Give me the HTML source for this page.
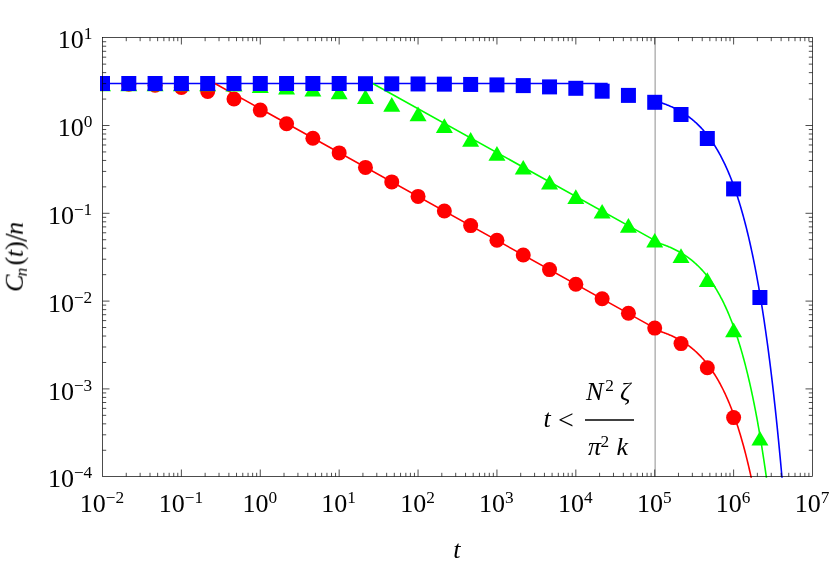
<!DOCTYPE html>
<html><head><meta charset="utf-8"><title>C_n(t)/n</title>
<style>html,body{margin:0;padding:0;background:#fff}body{width:830px;height:564px;overflow:hidden;font-family:"Liberation Serif",serif}</style></head>
<body>
<svg width="830" height="564" viewBox="0 0 830 564" style="display:block">
<rect x="0" y="0" width="830" height="564" fill="#fff"/>
<defs><clipPath id="cp"><rect x="100.0" y="30" width="720" height="447.7"/></clipPath></defs>
<line x1="655.17" y1="37.5" x2="655.17" y2="476.5" stroke="#b4b4b4" stroke-width="1.5"/>
<g clip-path="url(#cp)">
<path d="M95,83.5 L607.68,83.5" fill="none" stroke="#0000ff" stroke-width="1.6"/>
<path d="M655.17,100.95 L655.67,101.09 L656.17,101.23 L656.67,101.38 L657.17,101.52 L657.67,101.67 L658.17,101.82 L658.67,101.98 L659.17,102.13 L659.67,102.29 L660.17,102.45 L660.67,102.61 L661.17,102.77 L661.67,102.94 L662.17,103.11 L662.67,103.28 L663.17,103.46 L663.67,103.63 L664.17,103.81 L664.67,104.00 L665.17,104.18 L665.67,104.37 L666.17,104.56 L666.67,104.75 L667.17,104.95 L667.67,105.15 L668.17,105.35 L668.67,105.55 L669.17,105.76 L669.67,105.97 L670.17,106.19 L670.67,106.40 L671.17,106.62 L671.67,106.85 L672.17,107.07 L672.67,107.30 L673.17,107.54 L673.67,107.77 L674.17,108.02 L674.67,108.26 L675.17,108.51 L675.67,108.76 L676.17,109.01 L676.67,109.27 L677.17,109.53 L677.67,109.80 L678.17,110.07 L678.67,110.35 L679.17,110.62 L679.67,110.91 L680.17,111.19 L680.67,111.48 L681.17,111.78 L681.67,112.08 L682.17,112.38 L682.67,112.69 L683.17,113.00 L683.67,113.32 L684.17,113.64 L684.67,113.97 L685.17,114.30 L685.67,114.64 L686.17,114.98 L686.67,115.32 L687.17,115.67 L687.67,116.03 L688.17,116.39 L688.67,116.76 L689.17,117.13 L689.67,117.51 L690.17,117.89 L690.67,118.28 L691.17,118.68 L691.67,119.08 L692.17,119.49 L692.67,119.90 L693.17,120.32 L693.67,120.74 L694.17,121.17 L694.67,121.61 L695.17,122.06 L695.67,122.51 L696.17,122.96 L696.67,123.43 L697.17,123.90 L697.67,124.37 L698.17,124.86 L698.67,125.35 L699.17,125.85 L699.67,126.36 L700.17,126.87 L700.67,127.39 L701.17,127.92 L701.67,128.46 L702.17,129.00 L702.67,129.55 L703.17,130.11 L703.67,130.68 L704.17,131.26 L704.67,131.85 L705.17,132.44 L705.67,133.04 L706.17,133.65 L706.67,134.28 L707.17,134.91 L707.67,135.54 L708.17,136.19 L708.67,136.85 L709.17,137.52 L709.67,138.20 L710.17,138.89 L710.67,139.58 L711.17,140.29 L711.67,141.01 L712.17,141.74 L712.67,142.48 L713.17,143.23 L713.67,143.99 L714.17,144.76 L714.67,145.55 L715.17,146.34 L715.67,147.15 L716.17,147.97 L716.67,148.80 L717.17,149.65 L717.67,150.50 L718.17,151.37 L718.67,152.25 L719.17,153.15 L719.67,154.05 L720.17,154.97 L720.67,155.91 L721.17,156.86 L721.67,157.82 L722.17,158.79 L722.67,159.78 L723.17,160.79 L723.67,161.81 L724.17,162.84 L724.67,163.89 L725.17,164.96 L725.67,166.04 L726.17,167.14 L726.67,168.25 L727.17,169.38 L727.67,170.53 L728.17,171.69 L728.67,172.87 L729.17,174.07 L729.67,175.28 L730.17,176.52 L730.67,177.77 L731.17,179.04 L731.67,180.32 L732.17,181.63 L732.67,182.96 L733.17,184.30 L733.67,185.67 L734.17,187.05 L734.67,188.46 L735.17,189.89 L735.67,191.33 L736.17,192.80 L736.67,194.29 L737.17,195.81 L737.67,197.34 L738.17,198.90 L738.67,200.48 L739.17,202.08 L739.67,203.71 L740.17,205.36 L740.67,207.03 L741.17,208.73 L741.67,210.46 L742.17,212.21 L742.67,213.98 L743.17,215.79 L743.67,217.61 L744.17,219.47 L744.67,221.35 L745.17,223.26 L745.67,225.20 L746.17,227.17 L746.67,229.16 L747.17,231.19 L747.67,233.24 L748.17,235.33 L748.67,237.44 L749.17,239.59 L749.67,241.77 L750.17,243.98 L750.67,246.22 L751.17,248.50 L751.67,250.81 L752.17,253.15 L752.67,255.53 L753.17,257.94 L753.67,260.39 L754.17,262.87 L754.67,265.39 L755.17,267.95 L755.67,270.54 L756.17,273.18 L756.67,275.85 L757.17,278.56 L757.67,281.31 L758.17,284.10 L758.67,286.94 L759.17,289.81 L759.67,292.73 L760.17,295.69 L760.67,298.69 L761.17,301.74 L761.67,304.83 L762.17,307.97 L762.67,311.15 L763.17,314.38 L763.67,317.66 L764.17,320.98 L764.67,324.36 L765.17,327.78 L765.67,331.26 L766.17,334.78 L766.67,338.36 L767.17,341.99 L767.67,345.68 L768.17,349.41 L768.67,353.21 L769.17,357.05 L769.67,360.96 L770.17,364.92 L770.67,368.94 L771.17,373.02 L771.67,377.16 L772.17,381.36 L772.67,385.63 L773.17,389.95 L773.67,394.34 L774.17,398.79 L774.67,403.31 L775.17,407.90 L775.67,412.55 L776.17,417.27 L776.67,422.06 L777.17,426.92 L777.67,431.85 L778.17,436.86 L778.67,441.94 L779.17,447.09 L779.67,452.32 L780.17,457.62 L780.67,463.01 L781.17,468.47 L781.67,474.01 L782.17,479.64 L782.67,485.34" fill="none" stroke="#0000ff" stroke-width="1.6" stroke-linejoin="round"/>
<path d="M214.90,83.50 L655.17,328.42 L655.67,330.05 L656.17,330.19 L656.67,330.34 L657.17,330.48 L657.67,330.63 L658.17,330.78 L658.67,330.94 L659.17,331.09 L659.67,331.25 L660.17,331.41 L660.67,331.57 L661.17,331.74 L661.67,331.90 L662.17,332.07 L662.67,332.24 L663.17,332.42 L663.67,332.60 L664.17,332.77 L664.67,332.96 L665.17,333.14 L665.67,333.33 L666.17,333.52 L666.67,333.71 L667.17,333.91 L667.67,334.11 L668.17,334.31 L668.67,334.51 L669.17,334.72 L669.67,334.93 L670.17,335.15 L670.67,335.36 L671.17,335.59 L671.67,335.81 L672.17,336.04 L672.67,336.27 L673.17,336.50 L673.67,336.74 L674.17,336.98 L674.67,337.22 L675.17,337.47 L675.67,337.72 L676.17,337.97 L676.67,338.23 L677.17,338.50 L677.67,338.76 L678.17,339.03 L678.67,339.31 L679.17,339.58 L679.67,339.87 L680.17,340.15 L680.67,340.44 L681.17,340.74 L681.67,341.04 L682.17,341.34 L682.67,341.65 L683.17,341.96 L683.67,342.28 L684.17,342.60 L684.67,342.93 L685.17,343.26 L685.67,343.60 L686.17,343.94 L686.67,344.28 L687.17,344.64 L687.67,344.99 L688.17,345.35 L688.67,345.72 L689.17,346.09 L689.67,346.47 L690.17,346.86 L690.67,347.25 L691.17,347.64 L691.67,348.04 L692.17,348.45 L692.67,348.86 L693.17,349.28 L693.67,349.70 L694.17,350.14 L694.67,350.57 L695.17,351.02 L695.67,351.47 L696.17,351.92 L696.67,352.39 L697.17,352.86 L697.67,353.34 L698.17,353.82 L698.67,354.31 L699.17,354.81 L699.67,355.32 L700.17,355.83 L700.67,356.35 L701.17,356.88 L701.67,357.42 L702.17,357.96 L702.67,358.51 L703.17,359.07 L703.67,359.64 L704.17,360.22 L704.67,360.81 L705.17,361.40 L705.67,362.00 L706.17,362.62 L706.67,363.24 L707.17,363.87 L707.67,364.51 L708.17,365.15 L708.67,365.81 L709.17,366.48 L709.67,367.16 L710.17,367.85 L710.67,368.54 L711.17,369.25 L711.67,369.97 L712.17,370.70 L712.67,371.44 L713.17,372.19 L713.67,372.95 L714.17,373.72 L714.67,374.51 L715.17,375.30 L715.67,376.11 L716.17,376.93 L716.67,377.76 L717.17,378.61 L717.67,379.46 L718.17,380.33 L718.67,381.21 L719.17,382.11 L719.67,383.01 L720.17,383.94 L720.67,384.87 L721.17,385.82 L721.67,386.78 L722.17,387.76 L722.67,388.75 L723.17,389.75 L723.67,390.77 L724.17,391.81 L724.67,392.86 L725.17,393.92 L725.67,395.00 L726.17,396.10 L726.67,397.21 L727.17,398.34 L727.67,399.49 L728.17,400.65 L728.67,401.83 L729.17,403.03 L729.67,404.24 L730.17,405.48 L730.67,406.73 L731.17,408.00 L731.67,409.29 L732.17,410.59 L732.67,411.92 L733.17,413.26 L733.67,414.63 L734.17,416.02 L734.67,417.42 L735.17,418.85 L735.67,420.30 L736.17,421.76 L736.67,423.26 L737.17,424.77 L737.67,426.30 L738.17,427.86 L738.67,429.44 L739.17,431.04 L739.67,432.67 L740.17,434.32 L740.67,436.00 L741.17,437.69 L741.67,439.42 L742.17,441.17 L742.67,442.95 L743.17,444.75 L743.67,446.58 L744.17,448.43 L744.67,450.31 L745.17,452.22 L745.67,454.16 L746.17,456.13 L746.67,458.12 L747.17,460.15 L747.67,462.20 L748.17,464.29 L748.67,466.40 L749.17,468.55 L749.67,470.73 L750.17,472.94 L750.67,475.18 L751.17,477.46 L751.67,479.77 L752.17,482.11 L752.67,484.49" fill="none" stroke="#ff0000" stroke-width="1.6" stroke-linejoin="round"/>
<path d="M372.70,83.50 L655.17,240.64 L655.67,242.25 L656.17,242.39 L656.67,242.54 L657.17,242.68 L657.67,242.83 L658.17,242.98 L658.67,243.14 L659.17,243.29 L659.67,243.45 L660.17,243.61 L660.67,243.77 L661.17,243.94 L661.67,244.10 L662.17,244.27 L662.67,244.44 L663.17,244.62 L663.67,244.80 L664.17,244.97 L664.67,245.16 L665.17,245.34 L665.67,245.53 L666.17,245.72 L666.67,245.91 L667.17,246.11 L667.67,246.31 L668.17,246.51 L668.67,246.71 L669.17,246.92 L669.67,247.13 L670.17,247.35 L670.67,247.56 L671.17,247.79 L671.67,248.01 L672.17,248.24 L672.67,248.47 L673.17,248.70 L673.67,248.94 L674.17,249.18 L674.67,249.42 L675.17,249.67 L675.67,249.92 L676.17,250.17 L676.67,250.43 L677.17,250.70 L677.67,250.96 L678.17,251.23 L678.67,251.51 L679.17,251.78 L679.67,252.07 L680.17,252.35 L680.67,252.64 L681.17,252.94 L681.67,253.24 L682.17,253.54 L682.67,253.85 L683.17,254.16 L683.67,254.48 L684.17,254.80 L684.67,255.13 L685.17,255.46 L685.67,255.80 L686.17,256.14 L686.67,256.48 L687.17,256.84 L687.67,257.19 L688.17,257.55 L688.67,257.92 L689.17,258.29 L689.67,258.67 L690.17,259.06 L690.67,259.45 L691.17,259.84 L691.67,260.24 L692.17,260.65 L692.67,261.06 L693.17,261.48 L693.67,261.90 L694.17,262.34 L694.67,262.77 L695.17,263.22 L695.67,263.67 L696.17,264.12 L696.67,264.59 L697.17,265.06 L697.67,265.54 L698.17,266.02 L698.67,266.51 L699.17,267.01 L699.67,267.52 L700.17,268.03 L700.67,268.55 L701.17,269.08 L701.67,269.62 L702.17,270.16 L702.67,270.71 L703.17,271.27 L703.67,271.84 L704.17,272.42 L704.67,273.01 L705.17,273.60 L705.67,274.20 L706.17,274.82 L706.67,275.44 L707.17,276.07 L707.67,276.71 L708.17,277.35 L708.67,278.01 L709.17,278.68 L709.67,279.36 L710.17,280.05 L710.67,280.74 L711.17,281.45 L711.67,282.17 L712.17,282.90 L712.67,283.64 L713.17,284.39 L713.67,285.15 L714.17,285.92 L714.67,286.71 L715.17,287.50 L715.67,288.31 L716.17,289.13 L716.67,289.96 L717.17,290.81 L717.67,291.66 L718.17,292.53 L718.67,293.41 L719.17,294.31 L719.67,295.21 L720.17,296.14 L720.67,297.07 L721.17,298.02 L721.67,298.98 L722.17,299.96 L722.67,300.95 L723.17,301.95 L723.67,302.97 L724.17,304.01 L724.67,305.06 L725.17,306.12 L725.67,307.20 L726.17,308.30 L726.67,309.41 L727.17,310.54 L727.67,311.69 L728.17,312.85 L728.67,314.03 L729.17,315.23 L729.67,316.44 L730.17,317.68 L730.67,318.93 L731.17,320.20 L731.67,321.49 L732.17,322.79 L732.67,324.12 L733.17,325.46 L733.67,326.83 L734.17,328.22 L734.67,329.62 L735.17,331.05 L735.67,332.50 L736.17,333.96 L736.67,335.46 L737.17,336.97 L737.67,338.50 L738.17,340.06 L738.67,341.64 L739.17,343.24 L739.67,344.87 L740.17,346.52 L740.67,348.20 L741.17,349.89 L741.67,351.62 L742.17,353.37 L742.67,355.15 L743.17,356.95 L743.67,358.78 L744.17,360.63 L744.67,362.51 L745.17,364.42 L745.67,366.36 L746.17,368.33 L746.67,370.32 L747.17,372.35 L747.67,374.40 L748.17,376.49 L748.67,378.60 L749.17,380.75 L749.67,382.93 L750.17,385.14 L750.67,387.38 L751.17,389.66 L751.67,391.97 L752.17,394.31 L752.67,396.69 L753.17,399.10 L753.67,401.55 L754.17,404.03 L754.67,406.55 L755.17,409.11 L755.67,411.71 L756.17,414.34 L756.67,417.01 L757.17,419.72 L757.67,422.47 L758.17,425.27 L758.67,428.10 L759.17,430.97 L759.67,433.89 L760.17,436.85 L760.67,439.85 L761.17,442.90 L761.67,445.99 L762.17,449.13 L762.67,452.31 L763.17,455.54 L763.67,458.82 L764.17,462.15 L764.67,465.52 L765.17,468.94 L765.67,472.42 L766.17,475.94 L766.67,479.52 L767.17,483.15" fill="none" stroke="#00ff00" stroke-width="1.6" stroke-linejoin="round"/>
<circle cx="102.50" cy="83.7" r="7.5" fill="#ff0000"/>
<circle cx="128.80" cy="84.2" r="7.5" fill="#ff0000"/>
<circle cx="155.09" cy="85.2" r="7.5" fill="#ff0000"/>
<circle cx="181.39" cy="87.4" r="7.5" fill="#ff0000"/>
<circle cx="207.69" cy="91.5" r="7.5" fill="#ff0000"/>
<circle cx="233.98" cy="99.0" r="7.5" fill="#ff0000"/>
<circle cx="260.28" cy="110.1" r="7.5" fill="#ff0000"/>
<circle cx="286.57" cy="123.7" r="7.5" fill="#ff0000"/>
<circle cx="312.87" cy="138.2" r="7.5" fill="#ff0000"/>
<circle cx="339.17" cy="152.9" r="7.5" fill="#ff0000"/>
<circle cx="365.46" cy="167.4" r="7.5" fill="#ff0000"/>
<circle cx="391.76" cy="181.9" r="7.5" fill="#ff0000"/>
<circle cx="418.06" cy="196.4" r="7.5" fill="#ff0000"/>
<circle cx="444.35" cy="211.0" r="7.5" fill="#ff0000"/>
<circle cx="470.65" cy="225.6" r="7.5" fill="#ff0000"/>
<circle cx="496.94" cy="240.3" r="7.5" fill="#ff0000"/>
<circle cx="523.24" cy="255.0" r="7.5" fill="#ff0000"/>
<circle cx="549.54" cy="269.6" r="7.5" fill="#ff0000"/>
<circle cx="575.83" cy="284.2" r="7.5" fill="#ff0000"/>
<circle cx="602.13" cy="298.8" r="7.5" fill="#ff0000"/>
<circle cx="628.43" cy="313.2" r="7.5" fill="#ff0000"/>
<circle cx="654.72" cy="328.1" r="7.5" fill="#ff0000"/>
<circle cx="681.02" cy="343.6" r="7.5" fill="#ff0000"/>
<circle cx="707.31" cy="367.7" r="7.5" fill="#ff0000"/>
<circle cx="733.61" cy="417.6" r="7.5" fill="#ff0000"/>
<path d="M102.50,76.50 L111.00,91.20 L94.00,91.20 Z" fill="#00ff00"/>
<path d="M128.80,76.50 L137.30,91.20 L120.30,91.20 Z" fill="#00ff00"/>
<path d="M155.09,76.50 L163.59,91.20 L146.59,91.20 Z" fill="#00ff00"/>
<path d="M181.39,76.50 L189.89,91.20 L172.89,91.20 Z" fill="#00ff00"/>
<path d="M207.69,76.60 L216.19,91.30 L199.19,91.30 Z" fill="#00ff00"/>
<path d="M233.98,76.70 L242.48,91.40 L225.48,91.40 Z" fill="#00ff00"/>
<path d="M260.28,78.20 L268.78,92.90 L251.78,92.90 Z" fill="#00ff00"/>
<path d="M286.57,79.80 L295.07,94.50 L278.07,94.50 Z" fill="#00ff00"/>
<path d="M312.87,81.70 L321.37,96.40 L304.37,96.40 Z" fill="#00ff00"/>
<path d="M339.17,84.60 L347.67,99.30 L330.67,99.30 Z" fill="#00ff00"/>
<path d="M365.46,89.30 L373.96,104.00 L356.96,104.00 Z" fill="#00ff00"/>
<path d="M391.76,97.00 L400.26,111.70 L383.26,111.70 Z" fill="#00ff00"/>
<path d="M418.06,106.60 L426.56,121.30 L409.56,121.30 Z" fill="#00ff00"/>
<path d="M444.35,118.20 L452.85,132.90 L435.85,132.90 Z" fill="#00ff00"/>
<path d="M470.65,132.00 L479.15,146.70 L462.15,146.70 Z" fill="#00ff00"/>
<path d="M496.94,146.00 L505.44,160.70 L488.44,160.70 Z" fill="#00ff00"/>
<path d="M523.24,159.90 L531.74,174.60 L514.74,174.60 Z" fill="#00ff00"/>
<path d="M549.54,174.80 L558.04,189.50 L541.04,189.50 Z" fill="#00ff00"/>
<path d="M575.83,189.20 L584.33,203.90 L567.33,203.90 Z" fill="#00ff00"/>
<path d="M602.13,203.90 L610.63,218.60 L593.63,218.60 Z" fill="#00ff00"/>
<path d="M628.43,218.00 L636.93,232.70 L619.93,232.70 Z" fill="#00ff00"/>
<path d="M654.72,232.90 L663.22,247.60 L646.22,247.60 Z" fill="#00ff00"/>
<path d="M681.02,248.30 L689.52,263.00 L672.52,263.00 Z" fill="#00ff00"/>
<path d="M707.31,272.20 L715.81,286.90 L698.81,286.90 Z" fill="#00ff00"/>
<path d="M733.61,322.60 L742.11,337.30 L725.11,337.30 Z" fill="#00ff00"/>
<path d="M759.91,430.90 L768.41,445.60 L751.41,445.60 Z" fill="#00ff00"/>
<rect x="95.00" y="76.00" width="15" height="15" fill="#0000ff"/>
<rect x="121.30" y="76.00" width="15" height="15" fill="#0000ff"/>
<rect x="147.59" y="76.00" width="15" height="15" fill="#0000ff"/>
<rect x="173.89" y="76.00" width="15" height="15" fill="#0000ff"/>
<rect x="200.19" y="76.00" width="15" height="15" fill="#0000ff"/>
<rect x="226.48" y="76.00" width="15" height="15" fill="#0000ff"/>
<rect x="252.78" y="76.00" width="15" height="15" fill="#0000ff"/>
<rect x="279.07" y="76.00" width="15" height="15" fill="#0000ff"/>
<rect x="305.37" y="76.00" width="15" height="15" fill="#0000ff"/>
<rect x="331.67" y="76.00" width="15" height="15" fill="#0000ff"/>
<rect x="357.96" y="76.20" width="15" height="15" fill="#0000ff"/>
<rect x="384.26" y="76.30" width="15" height="15" fill="#0000ff"/>
<rect x="410.56" y="76.45" width="15" height="15" fill="#0000ff"/>
<rect x="436.85" y="76.65" width="15" height="15" fill="#0000ff"/>
<rect x="463.15" y="76.95" width="15" height="15" fill="#0000ff"/>
<rect x="489.44" y="77.40" width="15" height="15" fill="#0000ff"/>
<rect x="515.74" y="78.10" width="15" height="15" fill="#0000ff"/>
<rect x="542.04" y="79.40" width="15" height="15" fill="#0000ff"/>
<rect x="568.33" y="80.80" width="15" height="15" fill="#0000ff"/>
<rect x="594.63" y="83.70" width="15" height="15" fill="#0000ff"/>
<rect x="620.93" y="87.90" width="15" height="15" fill="#0000ff"/>
<rect x="647.22" y="94.80" width="15" height="15" fill="#0000ff"/>
<rect x="673.52" y="107.00" width="15" height="15" fill="#0000ff"/>
<rect x="699.81" y="131.00" width="15" height="15" fill="#0000ff"/>
<rect x="726.11" y="181.40" width="15" height="15" fill="#0000ff"/>
<rect x="752.41" y="290.00" width="15" height="15" fill="#0000ff"/>
</g>
<rect x="102.5" y="37.5" width="710.0" height="439.0" fill="none" stroke="#000" stroke-width="0.7"/>
<path d="M126.25,476.5 v-3.7 M126.25,37.5 v3.7 M140.14,476.5 v-3.7 M140.14,37.5 v3.7 M150.00,476.5 v-3.7 M150.00,37.5 v3.7 M157.64,476.5 v-3.7 M157.64,37.5 v3.7 M163.89,476.5 v-3.7 M163.89,37.5 v3.7 M169.17,476.5 v-3.7 M169.17,37.5 v3.7 M173.74,476.5 v-3.7 M173.74,37.5 v3.7 M177.78,476.5 v-3.7 M177.78,37.5 v3.7 M181.39,476.5 v-7.0 M181.39,37.5 v7.0 M205.14,476.5 v-3.7 M205.14,37.5 v3.7 M219.03,476.5 v-3.7 M219.03,37.5 v3.7 M228.88,476.5 v-3.7 M228.88,37.5 v3.7 M236.53,476.5 v-3.7 M236.53,37.5 v3.7 M242.78,476.5 v-3.7 M242.78,37.5 v3.7 M248.06,476.5 v-3.7 M248.06,37.5 v3.7 M252.63,476.5 v-3.7 M252.63,37.5 v3.7 M256.67,476.5 v-3.7 M256.67,37.5 v3.7 M260.28,476.5 v-7.0 M260.28,37.5 v7.0 M284.03,476.5 v-3.7 M284.03,37.5 v3.7 M297.92,476.5 v-3.7 M297.92,37.5 v3.7 M307.77,476.5 v-3.7 M307.77,37.5 v3.7 M315.42,476.5 v-3.7 M315.42,37.5 v3.7 M321.67,476.5 v-3.7 M321.67,37.5 v3.7 M326.95,476.5 v-3.7 M326.95,37.5 v3.7 M331.52,476.5 v-3.7 M331.52,37.5 v3.7 M335.56,476.5 v-3.7 M335.56,37.5 v3.7 M339.17,476.5 v-7.0 M339.17,37.5 v7.0 M362.91,476.5 v-3.7 M362.91,37.5 v3.7 M376.81,476.5 v-3.7 M376.81,37.5 v3.7 M386.66,476.5 v-3.7 M386.66,37.5 v3.7 M394.31,476.5 v-3.7 M394.31,37.5 v3.7 M400.55,476.5 v-3.7 M400.55,37.5 v3.7 M405.84,476.5 v-3.7 M405.84,37.5 v3.7 M410.41,476.5 v-3.7 M410.41,37.5 v3.7 M414.45,476.5 v-3.7 M414.45,37.5 v3.7 M418.06,476.5 v-7.0 M418.06,37.5 v7.0 M441.80,476.5 v-3.7 M441.80,37.5 v3.7 M455.70,476.5 v-3.7 M455.70,37.5 v3.7 M465.55,476.5 v-3.7 M465.55,37.5 v3.7 M473.20,476.5 v-3.7 M473.20,37.5 v3.7 M479.44,476.5 v-3.7 M479.44,37.5 v3.7 M484.72,476.5 v-3.7 M484.72,37.5 v3.7 M489.30,476.5 v-3.7 M489.30,37.5 v3.7 M493.33,476.5 v-3.7 M493.33,37.5 v3.7 M496.94,476.5 v-7.0 M496.94,37.5 v7.0 M520.69,476.5 v-3.7 M520.69,37.5 v3.7 M534.58,476.5 v-3.7 M534.58,37.5 v3.7 M544.44,476.5 v-3.7 M544.44,37.5 v3.7 M552.09,476.5 v-3.7 M552.09,37.5 v3.7 M558.33,476.5 v-3.7 M558.33,37.5 v3.7 M563.61,476.5 v-3.7 M563.61,37.5 v3.7 M568.19,476.5 v-3.7 M568.19,37.5 v3.7 M572.22,476.5 v-3.7 M572.22,37.5 v3.7 M575.83,476.5 v-7.0 M575.83,37.5 v7.0 M599.58,476.5 v-3.7 M599.58,37.5 v3.7 M613.47,476.5 v-3.7 M613.47,37.5 v3.7 M623.33,476.5 v-3.7 M623.33,37.5 v3.7 M630.97,476.5 v-3.7 M630.97,37.5 v3.7 M637.22,476.5 v-3.7 M637.22,37.5 v3.7 M642.50,476.5 v-3.7 M642.50,37.5 v3.7 M647.08,476.5 v-3.7 M647.08,37.5 v3.7 M651.11,476.5 v-3.7 M651.11,37.5 v3.7 M654.72,476.5 v-7.0 M654.72,37.5 v7.0 M678.47,476.5 v-3.7 M678.47,37.5 v3.7 M692.36,476.5 v-3.7 M692.36,37.5 v3.7 M702.22,476.5 v-3.7 M702.22,37.5 v3.7 M709.86,476.5 v-3.7 M709.86,37.5 v3.7 M716.11,476.5 v-3.7 M716.11,37.5 v3.7 M721.39,476.5 v-3.7 M721.39,37.5 v3.7 M725.97,476.5 v-3.7 M725.97,37.5 v3.7 M730.00,476.5 v-3.7 M730.00,37.5 v3.7 M733.61,476.5 v-7.0 M733.61,37.5 v7.0 M757.36,476.5 v-3.7 M757.36,37.5 v3.7 M771.25,476.5 v-3.7 M771.25,37.5 v3.7 M781.11,476.5 v-3.7 M781.11,37.5 v3.7 M788.75,476.5 v-3.7 M788.75,37.5 v3.7 M795.00,476.5 v-3.7 M795.00,37.5 v3.7 M800.28,476.5 v-3.7 M800.28,37.5 v3.7 M804.85,476.5 v-3.7 M804.85,37.5 v3.7 M808.89,476.5 v-3.7 M808.89,37.5 v3.7 M102.5,450.27 h3.7 M812.5,450.27 h-3.7 M102.5,434.81 h3.7 M812.5,434.81 h-3.7 M102.5,423.84 h3.7 M812.5,423.84 h-3.7 M102.5,415.33 h3.7 M812.5,415.33 h-3.7 M102.5,408.38 h3.7 M812.5,408.38 h-3.7 M102.5,402.50 h3.7 M812.5,402.50 h-3.7 M102.5,397.41 h3.7 M812.5,397.41 h-3.7 M102.5,392.92 h3.7 M812.5,392.92 h-3.7 M102.5,388.90 h7.0 M812.5,388.90 h-7.0 M102.5,362.47 h3.7 M812.5,362.47 h-3.7 M102.5,347.01 h3.7 M812.5,347.01 h-3.7 M102.5,336.04 h3.7 M812.5,336.04 h-3.7 M102.5,327.53 h3.7 M812.5,327.53 h-3.7 M102.5,320.58 h3.7 M812.5,320.58 h-3.7 M102.5,314.70 h3.7 M812.5,314.70 h-3.7 M102.5,309.61 h3.7 M812.5,309.61 h-3.7 M102.5,305.12 h3.7 M812.5,305.12 h-3.7 M102.5,301.10 h7.0 M812.5,301.10 h-7.0 M102.5,274.67 h3.7 M812.5,274.67 h-3.7 M102.5,259.21 h3.7 M812.5,259.21 h-3.7 M102.5,248.24 h3.7 M812.5,248.24 h-3.7 M102.5,239.73 h3.7 M812.5,239.73 h-3.7 M102.5,232.78 h3.7 M812.5,232.78 h-3.7 M102.5,226.90 h3.7 M812.5,226.90 h-3.7 M102.5,221.81 h3.7 M812.5,221.81 h-3.7 M102.5,217.32 h3.7 M812.5,217.32 h-3.7 M102.5,213.30 h7.0 M812.5,213.30 h-7.0 M102.5,186.87 h3.7 M812.5,186.87 h-3.7 M102.5,171.41 h3.7 M812.5,171.41 h-3.7 M102.5,160.44 h3.7 M812.5,160.44 h-3.7 M102.5,151.93 h3.7 M812.5,151.93 h-3.7 M102.5,144.98 h3.7 M812.5,144.98 h-3.7 M102.5,139.10 h3.7 M812.5,139.10 h-3.7 M102.5,134.01 h3.7 M812.5,134.01 h-3.7 M102.5,129.52 h3.7 M812.5,129.52 h-3.7 M102.5,125.50 h7.0 M812.5,125.50 h-7.0 M102.5,99.07 h3.7 M812.5,99.07 h-3.7 M102.5,83.61 h3.7 M812.5,83.61 h-3.7 M102.5,72.64 h3.7 M812.5,72.64 h-3.7 M102.5,64.13 h3.7 M812.5,64.13 h-3.7 M102.5,57.18 h3.7 M812.5,57.18 h-3.7 M102.5,51.30 h3.7 M812.5,51.30 h-3.7 M102.5,46.21 h3.7 M812.5,46.21 h-3.7 M102.5,41.72 h3.7 M812.5,41.72 h-3.7" fill="none" stroke="#000" stroke-width="0.7"/>
<g font-family="Liberation Serif, serif" fill="#000" style="opacity:0.999">
<text x="79.80" y="512.00" font-size="26">10<tspan font-size="17.3" dy="-9.0">−2</tspan></text>
<text x="158.69" y="512.00" font-size="26">10<tspan font-size="17.3" dy="-9.0">−1</tspan></text>
<text x="242.45" y="512.00" font-size="26">10<tspan font-size="17.3" dy="-9.0">0</tspan></text>
<text x="321.34" y="512.00" font-size="26">10<tspan font-size="17.3" dy="-9.0">1</tspan></text>
<text x="400.23" y="512.00" font-size="26">10<tspan font-size="17.3" dy="-9.0">2</tspan></text>
<text x="479.12" y="512.00" font-size="26">10<tspan font-size="17.3" dy="-9.0">3</tspan></text>
<text x="558.01" y="512.00" font-size="26">10<tspan font-size="17.3" dy="-9.0">4</tspan></text>
<text x="636.90" y="512.00" font-size="26">10<tspan font-size="17.3" dy="-9.0">5</tspan></text>
<text x="715.79" y="512.00" font-size="26">10<tspan font-size="17.3" dy="-9.0">6</tspan></text>
<text x="794.67" y="512.00" font-size="26">10<tspan font-size="17.3" dy="-9.0">7</tspan></text>
<text x="47.89" y="487.35" font-size="26">10<tspan font-size="17.3" dy="-9.0">−4</tspan></text>
<text x="47.89" y="399.55" font-size="26">10<tspan font-size="17.3" dy="-9.0">−3</tspan></text>
<text x="47.89" y="311.75" font-size="26">10<tspan font-size="17.3" dy="-9.0">−2</tspan></text>
<text x="47.89" y="223.95" font-size="26">10<tspan font-size="17.3" dy="-9.0">−1</tspan></text>
<text x="57.65" y="136.15" font-size="26">10<tspan font-size="17.3" dy="-9.0">0</tspan></text>
<text x="57.65" y="48.35" font-size="26">10<tspan font-size="17.3" dy="-9.0">1</tspan></text>
<text x="453.3" y="558.1" font-size="26" font-style="italic">t</text>
<g transform="translate(22.8,292.4) rotate(-90)" font-size="26">
<text x="0.45" y="0" font-style="italic">C</text>
<text x="15.9" y="4.2" font-size="17.3" font-style="italic">n</text>
<text x="27.0" y="0">(</text>
<text x="35.2" y="0" font-style="italic">t</text>
<text x="42.6" y="0">)</text>
<text x="50.6" y="3.5" font-size="31">/</text>
<text x="57.4" y="0" font-style="italic">n</text>
</g>
<text x="543.4" y="426.8" font-size="26" font-style="italic">t</text>
<text x="558.1" y="428.7" font-size="28">&lt;</text>
<text x="586" y="399.8" font-size="26" font-style="italic">N</text>
<text x="605.2" y="390.8" font-size="17.3">2</text>
<text x="620" y="399.8" font-size="26" font-style="italic">ζ</text>
<line x1="585" y1="419.9" x2="634" y2="419.9" stroke="#000" stroke-width="1.5"/>
<text x="588" y="455.0" font-size="26" font-style="italic">π</text>
<text x="600.4" y="446.8" font-size="17.3">2</text>
<text x="616.5" y="455.0" font-size="26" font-style="italic">k</text>
</g>
</svg>
</body></html>
